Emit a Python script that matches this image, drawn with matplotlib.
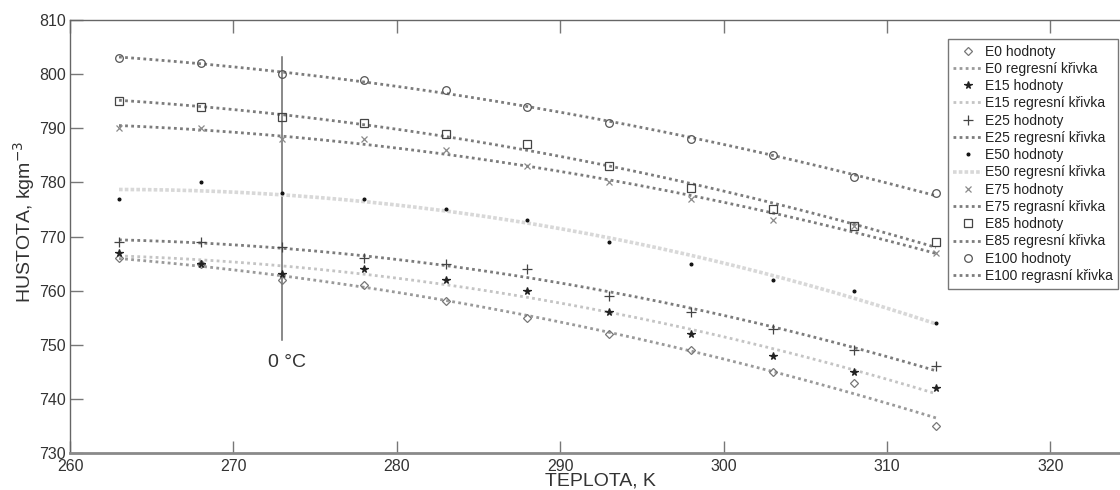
import numpy as np
import matplotlib
matplotlib.use("Agg")
import matplotlib.pyplot as plt

plt.rcParams["font.family"] = ["Liberation Sans", "DejaVu Sans"]

# Teplota, K
teplota = [263, 268, 273, 278, 283, 288, 293, 298, 303, 308, 313]

# Hustota, kg/m3
e0 = [766, 765, 762, 761, 758, 755, 752, 749, 745, 743, 735]
e15 = [767, 765, 763, 764, 762, 760, 756, 752, 748, 745, 742]
e25 = [769, 769, 768, 766, 765, 764, 759, 756, 753, 749, 746]
e50 = [777, 780, 778, 777, 775, 773, 769, 765, 762, 760, 754]
e75 = [790, 790, 788, 788, 786, 783, 780, 777, 773, 772, 767]
e85 = [795, 794, 792, 791, 789, 787, 783, 779, 775, 772, 769]
e100 = [803, 802, 800, 799, 797, 794, 791, 788, 785, 781, 778]

names = ["E0", "E15", "E25", "E50", "E75", "E85", "E100"]
curve_words = ["regresní", "regresní", "regresní", "regresní", "regrasní", "regresní", "regrasní"]
series = [e0, e15, e25, e50, e75, e85, e100]

# styl: (marker, barva markeru, velikost, vypln, barva krivky, sirka krivky, styl krivky)
styles = [
    ("D", "#777777", 4.0, "none", "#9a9a9a", 2.0, (0, (1, 1.2))),
    ("*", "#222222", 5.5, "#222222", "#c4c4c4", 2.0, (0, (1, 1.2))),
    ("+", "#444444", 6.5, "none", "#7c7c7c", 2.0, (0, (1, 1.2))),
    (".", "#111111", 4.0, "#111111", "#d8d8d8", 2.6, (0, (1, 0.6))),
    ("x", "#8a8a8a", 4.0, "none", "#7c7c7c", 2.0, (0, (1, 1.2))),
    ("s", "#444444", 5.5, "none", "#7c7c7c", 2.0, (0, (1, 1.2))),
    ("o", "#555555", 5.5, "none", "#7c7c7c", 2.0, (0, (1, 1.2))),
]

fig = plt.figure(figsize=(11.2, 4.9), dpi=100)
ax = fig.add_axes([70 / 1120, 1 - 453 / 490, 1062 / 1120, 433 / 490])

x = np.array(teplota, dtype=float)
xs = np.linspace(x.min(), x.max(), 200)

for name, word, y, st in zip(names, curve_words, series, styles):
    mk, mc, ms, mf, lc, lw, ls = st
    ax.plot(x, y, linestyle="none", marker=mk, markersize=ms,
            markeredgecolor=mc, markerfacecolor=mf, markeredgewidth=0.9,
            label=f"{name} hodnoty", zorder=3)
    # kvadraticka regrese
    coef = np.polyfit(x, y, 2)
    ax.plot(xs, np.polyval(coef, xs), color=lc, linewidth=lw, linestyle=ls,
            label=f"{name} {word} křivka", zorder=2)

# 0 °C
ax.plot([273, 273], [750.8, 803.2], color="#6a6a6a", linewidth=1.1, zorder=1)
ax.text(273.3, 746.8, "0 °C", fontsize=14, ha="center", va="center", color="#333333")

ax.set_xlim(260, 325)
ax.set_ylim(730, 810)
ax.set_xticks(np.arange(260, 325, 10))
ax.set_yticks(np.arange(730, 811, 10))

ax.tick_params(direction="in", length=9, width=1, color="#777777",
               top=True, right=False, colors="#333333")
ax.tick_params(axis="y", pad=3, labelsize=11.5)
ax.tick_params(axis="x", pad=4, labelsize=11.5)

for side in ["left", "top"]:
    ax.spines[side].set_color("#666666")
    ax.spines[side].set_linewidth(1.0)
ax.spines["bottom"].set_color("#8a8a8a")
ax.spines["bottom"].set_linewidth(2.0)
ax.spines["right"].set_visible(False)

ax.set_xlabel("TEPLOTA, K", fontsize=14, color="#333333", va="center")
ax.xaxis.set_label_coords((600 - 70) / 1062, (453 - 481) / 433)
ax.set_ylabel("HUSTOTA, kgm$^{-3}$", fontsize=14, color="#333333", va="center")
ax.yaxis.set_label_coords((24 - 70) / 1062, (453 - 222) / 433)

leg = ax.legend(loc="upper right", bbox_to_anchor=(1118 / 1120, 1 - 39 / 490),
                bbox_transform=fig.transFigure, fontsize=10, frameon=True,
                fancybox=False, edgecolor="#777777", framealpha=1,
                labelspacing=0.235, handlelength=2.1, handletextpad=0.15,
                borderpad=0.4, borderaxespad=0)
leg.get_frame().set_linewidth(1.0)
for t in leg.get_texts():
    t.set_color("#222222")

fig.savefig("out.png", dpi=100)
